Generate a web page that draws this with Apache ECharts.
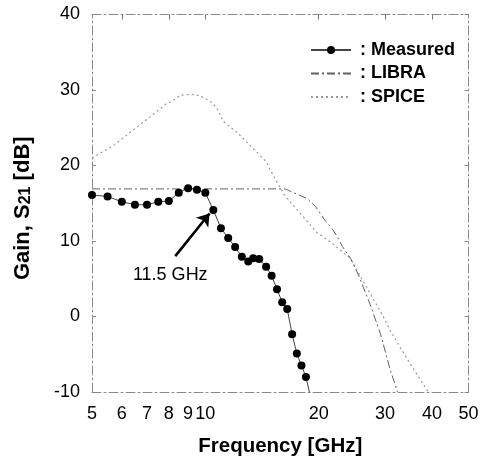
<!DOCTYPE html>
<html><head><meta charset="utf-8">
<script src="https://cdn.jsdelivr.net/npm/echarts@6/dist/echarts.min.js"></script>
<style>html,body{margin:0;padding:0;background:#fff}#c{width:494px;height:462px}</style>
</head><body><div id="c"></div>
<script>
// ---- data ----
const xTickValues = [5, 6, 7, 8, 9, 10, 20, 30, 40, 50];
const topTickValues = [6, 8, 10, 20, 30, 40];
const yMin = -10, yMax = 40, yStep = 10;

const measuredFreq = [5, 5.5, 6, 6.5, 7, 7.5, 8, 8.5, 9, 9.5, 10, 10.5, 11, 11.5, 12, 12.5, 13, 13.4, 13.9, 14.5, 15, 15.5, 16, 16.5, 17, 17.5, 18, 18.5, 19];
const measuredGain = [16.1, 15.9, 15.2, 14.8, 14.8, 15.2, 15.3, 16.4, 17.0, 16.8, 16.4, 14.1, 11.7, 10.4, 9.2, 7.9, 7.3, 7.7, 7.6, 6.6, 5.4, 3.6, 1.9, 1.0, -2.35, -4.9, -6.5, -8.0, -10.5];

const libraFreq = [5, 6.9, 10, 13.6, 16.3, 18.66, 19.6, 20.8, 21.7, 22.4, 23.1, 24.3, 25.5, 27.4, 29.2, 31.0, 32.4];
const libraGain = [16.9, 16.9, 16.9, 16.9, 16.9, 15.6, 14.6, 12.7, 11.65, 10.6, 9.3, 7.7, 5.5, 1.6, -2.35, -7.1, -10];

const spiceFreq = [5, 5.65, 7.54, 7.83, 8.15, 8.58, 8.94, 9.41, 9.8, 10.31, 10.73, 11.18, 12.13, 14.51, 14.78, 15.18, 16.21, 19.71, 21.7, 24.27, 29.45, 30.98, 32.94, 35.67, 39.1];
const spiceGain = [21.0, 22.5, 27.4, 28.1, 28.5, 29.3, 29.4, 29.4, 29.1, 28.5, 27.6, 25.8, 24.4, 20.5, 19.7, 18.6, 16.1, 11.2, 9.7, 7.7, 0.3, -1.85, -4.1, -6.9, -10];

const seriesNames = ['Measured', 'LIBRA', 'SPICE'];
const arrowStart = [8.32, 8.0];
const arrowEnd = [10.26, 13.65];
const annotationPos = [8.07, 5.44];
const annotationText = '11.5 GHz';

// ---- chart ----
const zip = (a, b) => a.map((v, i) => [v, b[i]]);
const FONT = 'Liberation Sans, Arial, sans-serif';
const frameLine = { show: true, onZero: false, lineStyle: { color: '#8a8a8a', width: 1, type: [9, 3, 2, 3] } };
const noMarker = { color: 'rgba(0,0,0,0)', borderColor: 'rgba(0,0,0,0)', borderWidth: 0 };

const chart = echarts.init(document.getElementById('c'), null, { renderer: 'canvas' });
chart.setOption({
  animation: false,
  backgroundColor: '#fff',
  textStyle: { fontFamily: FONT },
  grid: { left: 92, right: 25.5, top: 14.5, bottom: 67, containLabel: false },
  legend: {
    data: [
      { name: seriesNames[0] },
      { name: seriesNames[1], itemStyle: noMarker },
      { name: seriesNames[2], itemStyle: noMarker }
    ],
    orient: 'vertical',
    left: 305,
    top: 35,
    itemWidth: 40,
    itemHeight: 10,
    itemGap: 3.5,
    formatter: n => ': ' + n,
    textStyle: { fontFamily: FONT, fontWeight: 'bold', fontSize: 18, color: '#000', lineHeight: 20, padding: [0, 0, 0, 4] }
  },
  xAxis: [{
    type: 'log', logBase: 10, min: 5, max: 50, position: 'bottom',
    name: 'Frequency [GHz]', nameLocation: 'middle', nameGap: 44,
    nameTextStyle: { fontFamily: FONT, fontWeight: 'bold', fontSize: 20.5, color: '#000' },
    axisLine: frameLine,
    axisTick: { show: false },
    splitLine: { show: false },
    minorTick: { show: false },
    axisLabel: { customValues: xTickValues, margin: 13, fontSize: 18, color: '#000', fontFamily: FONT, formatter: v => String(v) }
  }, {
    type: 'log', logBase: 10, min: 5, max: 50, position: 'top',
    axisLine: frameLine,
    axisTick: { show: true, inside: true, length: 5, customValues: topTickValues, lineStyle: { color: '#777' } },
    axisLabel: { show: false },
    splitLine: { show: false }
  }],
  yAxis: [{
    type: 'value', min: yMin, max: yMax, interval: yStep, position: 'left',
    name: 'Gain, S{sub|21} [dB]', nameLocation: 'middle', nameGap: 58, nameRotate: 90,
    nameTextStyle: {
      fontFamily: FONT, fontWeight: 'bold', fontSize: 22, color: '#000', padding: [0, 10, 0, 0],
      rich: { sub: { fontFamily: FONT, fontWeight: 'bold', fontSize: 16, color: '#000', lineHeight: 10, verticalAlign: 'bottom' } }
    },
    axisLine: frameLine,
    axisTick: { show: true, inside: true, length: 4, lineStyle: { color: '#888' } },
    splitLine: { show: false },
    axisLabel: { margin: 12, fontSize: 18, color: '#000', fontFamily: FONT }
  }, {
    type: 'value', min: yMin, max: yMax, interval: yStep, position: 'right',
    axisLine: frameLine,
    axisTick: { show: true, inside: true, length: 4, lineStyle: { color: '#888' } },
    axisLabel: { show: false },
    splitLine: { show: false }
  }],
  series: [{
    name: 'Measured', type: 'line', data: zip(measuredFreq, measuredGain),
    symbol: 'circle', symbolSize: 8, showAllSymbol: true,
    itemStyle: { color: '#000' },
    lineStyle: { color: '#444', width: 1 },
    z: 5,
    markLine: {
      silent: true, symbol: ['none', 'arrow'], symbolSize: 12,
      lineStyle: { color: '#000', width: 2.6, type: 'solid' },
      label: { show: false },
      data: [[{ coord: arrowStart }, { coord: arrowEnd }]]
    },
    markPoint: {
      silent: true, symbol: 'circle', symbolSize: 1, itemStyle: { color: 'rgba(0,0,0,0)' },
      label: { show: true, position: 'inside', formatter: annotationText, fontFamily: FONT, fontSize: 18, color: '#000' },
      data: [{ coord: annotationPos }]
    }
  }, {
    name: 'LIBRA', type: 'line', data: zip(libraFreq, libraGain),
    symbol: 'none', itemStyle: { color: '#555' },
    lineStyle: { color: '#606060', width: 1, type: [8, 3, 2, 3] }, z: 3
  }, {
    name: 'SPICE', type: 'line', data: zip(spiceFreq, spiceGain),
    symbol: 'none', itemStyle: { color: '#999' },
    lineStyle: { color: '#9a9a9a', width: 1.2, type: [2, 3] }, z: 2
  }]
});
</script></body></html>
